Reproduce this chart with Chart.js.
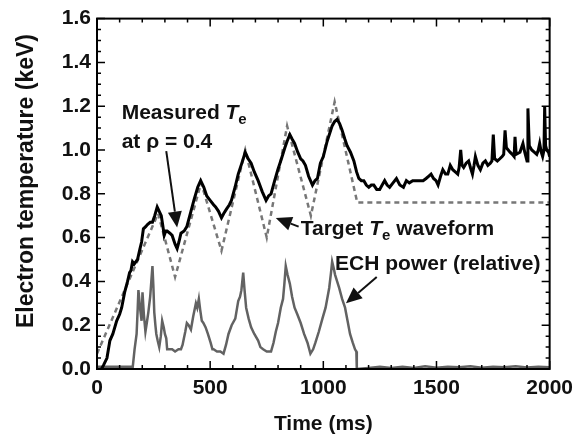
<!DOCTYPE html>
<html>
<head>
<meta charset="utf-8">
<script src="https://cdn.jsdelivr.net/npm/chart.js@4"></script>
<style>
  body { margin: 0; background: #fff; }
  canvas { display: block; }
</style>
</head>
<body>
<canvas id="chart" width="580" height="440"></canvas>
<script>
// measured Te at rho = 0.4 (keV) vs time (ms)
const measTime = [20,30,44,57,70,87,100,109,122,135,144,150,157,165,179,190,197,205,215,223,235,245,255,266,275,284,290,297,304,310,322,332,345,354,362,371,385,397,410,428,445,458,472,485,500,515,524,537,550,560,572,585,594,610,624,640,655,668,681,695,712,730,747,758,769,785,799,815,830,840,852,862,873,887,900,910,921,935,952,963,974,987,1000,1017,1039,1050,1061,1072,1083,1095,1105,1120,1135,1147,1157,1168,1179,1190,1201,1212,1223,1236,1249,1260,1271,1282,1293,1308,1323,1338,1354,1367,1380,1395,1410,1425,1441,1454,1465,1476,1487,1498,1507,1518,1528,1540,1550,1561,1572,1583,1594,1600,1607,1613,1620,1631,1642,1650,1659,1666,1672,1683,1694,1705,1716,1727,1738,1745,1751,1757,1769,1780,1790,1797,1803,1809,1817,1825,1835,1843,1847,1852,1869,1882,1890,1900,1904,1910,1921,1932,1943,1950,1956,1963,1969,1975,1978,1982,1987,1995,2000];
const measTe = [0.0,0.02,0.05,0.13,0.16,0.22,0.25,0.28,0.35,0.40,0.44,0.45,0.49,0.48,0.50,0.55,0.58,0.64,0.65,0.66,0.67,0.67,0.70,0.74,0.72,0.70,0.66,0.61,0.63,0.63,0.62,0.61,0.57,0.55,0.58,0.62,0.63,0.65,0.70,0.77,0.83,0.86,0.83,0.79,0.77,0.75,0.74,0.72,0.69,0.71,0.73,0.75,0.77,0.83,0.89,0.94,0.99,0.96,0.94,0.90,0.86,0.81,0.77,0.79,0.80,0.86,0.91,0.96,1.01,1.04,1.07,1.05,1.03,0.99,0.96,0.95,0.93,0.88,0.84,0.86,0.87,0.94,0.97,1.04,1.11,1.13,1.14,1.12,1.09,1.05,1.02,0.99,0.95,0.90,0.87,0.86,0.86,0.84,0.83,0.84,0.84,0.82,0.82,0.84,0.86,0.84,0.83,0.85,0.87,0.84,0.83,0.86,0.85,0.86,0.86,0.86,0.86,0.87,0.88,0.89,0.87,0.86,0.84,0.88,0.91,0.89,0.89,0.93,0.91,0.90,0.89,0.92,1.00,0.93,0.92,0.94,0.95,0.92,0.89,0.93,0.97,0.93,0.91,0.94,0.95,0.93,0.94,0.95,1.07,0.96,0.95,0.96,0.97,0.98,1.09,1.01,1.00,0.99,0.98,0.97,1.06,0.98,0.99,1.03,0.99,0.95,1.19,1.02,1.00,0.99,0.98,1.00,1.03,0.99,0.97,1.00,1.20,1.02,1.00,0.99,0.97];

// target Te waveform
const targetTime = [0,270,345,460,550,655,750,840,945,1050,1150,2000];
const targetTe = [0.07,0.71,0.42,0.85,0.54,1.00,0.60,1.11,0.70,1.22,0.76,0.76];

// ECH power (relative, plotted on the keV axis)
const echTime = [0,50,100,150,157,162,166,175,180,183,190,197,201,207,214,220,227,235,240,245,249,253,258,262,268,275,282,288,295,300,306,310,320,332,345,360,371,378,384,390,397,405,415,425,437,443,450,456,463,470,480,490,502,510,515,530,545,559,570,581,595,611,624,632,638,646,652,659,670,681,695,712,722,734,750,769,780,790,800,812,822,828,834,842,852,862,873,885,900,915,930,943,955,965,980,996,1010,1026,1034,1039,1046,1052,1061,1070,1083,1096,1107,1118,1130,1140,1146,1148,1200,1250,1300,1350,1400,1450,1500,1550,1600,1650,1700,1750,1800,1850,1900,1950,2000];
const echPower = [0.01,0.01,0.01,0.01,0.0,0.05,0.09,0.16,0.28,0.36,0.28,0.22,0.35,0.25,0.17,0.21,0.26,0.33,0.40,0.47,0.38,0.26,0.20,0.16,0.13,0.10,0.15,0.22,0.19,0.16,0.14,0.09,0.09,0.09,0.08,0.09,0.09,0.11,0.14,0.17,0.21,0.20,0.18,0.24,0.30,0.28,0.32,0.27,0.22,0.21,0.19,0.16,0.12,0.09,0.09,0.08,0.08,0.07,0.11,0.16,0.20,0.23,0.31,0.33,0.36,0.44,0.36,0.28,0.23,0.19,0.16,0.13,0.10,0.09,0.08,0.08,0.12,0.17,0.21,0.28,0.32,0.39,0.47,0.43,0.39,0.33,0.28,0.25,0.21,0.16,0.12,0.07,0.09,0.12,0.17,0.23,0.28,0.37,0.44,0.49,0.46,0.43,0.40,0.37,0.32,0.28,0.22,0.16,0.12,0.09,0.08,0.0,0.005,0.01,0.005,0.01,0.005,0.012,0.006,0.01,0.008,0.012,0.006,0.01,0.008,0.012,0.007,0.01,0.008];

const xMajor = 500, xMinor = 100;
const yMajor = 0.2, yMinor = 0.05;

const FONT = '"Liberation Sans", Arial, Helvetica, sans-serif';

const pts = (xs, ys) => xs.map((x, i) => ({ x, y: ys[i] }));

// text annotations, anchored in data units
const notes = [
  { t: 109, v: 1.14, parts: [["Measured ", false], ["T", true], ["e", "sub"]] },
  { t: 109, v: 1.01, parts: [["at ", false], ["\u03c1", false], [" = 0.4", false]] },
  { t: 900, v: 0.61, parts: [["Target ", false], ["T", true], ["e", "sub"], [" waveform", false]] },
  { t: 1052, v: 0.453, parts: [["ECH power (relative)", false]] }
];
const arrows = [
  { from: [306, 0.995], to: [354, 0.646] },
  { from: [891, 0.65], to: [790, 0.69] },
  { from: [1236, 0.42], to: [1100, 0.30] }
];

const framePlugin = {
  id: "frame",
  afterDraw(chart) {
    const { ctx, chartArea: a, scales: { x, y } } = chart;
    ctx.save();
    ctx.strokeStyle = "#000";
    ctx.lineWidth = 2;
    ctx.strokeRect(a.left, a.top, a.right - a.left, a.bottom - a.top);

    // inward ticks on all four sides
    ctx.lineWidth = 1.5;
    ctx.beginPath();
    for (let t = 0; t <= 2000; t += xMinor) {
      const px = x.getPixelForValue(t);
      const len = t % xMajor === 0 ? 8 : 4;
      ctx.moveTo(px, a.bottom); ctx.lineTo(px, a.bottom - len);
      ctx.moveTo(px, a.top); ctx.lineTo(px, a.top + len);
    }
    for (let k = 0; k <= 32; k++) {
      const py = y.getPixelForValue(k * yMinor);
      const len = k % 4 === 0 ? 8 : 4;
      ctx.moveTo(a.left, py); ctx.lineTo(a.left + len, py);
      ctx.moveTo(a.right, py); ctx.lineTo(a.right - len, py);
    }
    ctx.stroke();

    // labels
    ctx.fillStyle = "#111";
    ctx.textBaseline = "alphabetic";
    notes.forEach(n => {
      let px = x.getPixelForValue(n.t);
      const py = y.getPixelForValue(n.v);
      n.parts.forEach(([txt, style]) => {
        if (style === "sub") {
          ctx.font = `bold 15px ${FONT}`;
          ctx.fillText(txt, px, py + 5);
        } else {
          ctx.font = `${style ? "italic " : ""}bold 21px ${FONT}`;
          ctx.fillText(txt, px, py);
        }
        px += ctx.measureText(txt).width;
      });
    });

    // arrows
    ctx.strokeStyle = "#111";
    ctx.lineWidth = 2;
    arrows.forEach(ar => {
      const x0 = x.getPixelForValue(ar.from[0]), y0 = y.getPixelForValue(ar.from[1]);
      const x1 = x.getPixelForValue(ar.to[0]), y1 = y.getPixelForValue(ar.to[1]);
      const ang = Math.atan2(y1 - y0, x1 - x0);
      const hl = 16, hw = 7;
      const bx = x1 - hl * Math.cos(ang), by = y1 - hl * Math.sin(ang);
      ctx.beginPath();
      ctx.moveTo(x0, y0); ctx.lineTo(bx, by);
      ctx.stroke();
      ctx.beginPath();
      ctx.moveTo(x1, y1);
      ctx.lineTo(bx + hw * Math.sin(ang), by - hw * Math.cos(ang));
      ctx.lineTo(bx - hw * Math.sin(ang), by + hw * Math.cos(ang));
      ctx.closePath();
      ctx.fill();
    });
    ctx.restore();
  }
};

new Chart(document.getElementById("chart"), {
  type: "line",
  data: {
    datasets: [
      { label: "Measured Te", data: pts(measTime, measTe), borderColor: "#000", borderWidth: 3, pointRadius: 0, tension: 0 },
      { label: "Target Te", data: pts(targetTime, targetTe), borderColor: "#777", borderWidth: 2.5, borderDash: [5, 4], pointRadius: 0, tension: 0 },
      { label: "ECH power", data: pts(echTime, echPower), borderColor: "#626262", borderWidth: 2.5, pointRadius: 0, tension: 0 }
    ]
  },
  options: {
    responsive: false,
    animation: false,
    layout: { padding: { top: 12, right: 25, left: 0, bottom: 0 } },
    plugins: { legend: { display: false }, tooltip: { enabled: false } },
    scales: {
      x: {
        type: "linear", min: 0, max: 2000,
        grid: { display: false, drawTicks: false },
        border: { display: false },
        ticks: { stepSize: xMajor, padding: 7, color: "#111", font: { family: FONT, size: 21, weight: "bold" }, callback: v => String(v) },
        title: { display: true, text: "Time (ms)", color: "#111", padding: { top: 0, bottom: 3 }, font: { family: FONT, size: 21, weight: "bold" } },
        afterFit: s => { s.height = 71; }
      },
      y: {
        min: 0, max: 1.6,
        grid: { display: false, drawTicks: false },
        border: { display: false },
        ticks: { stepSize: yMajor, padding: 6, color: "#111", font: { family: FONT, size: 21, weight: "bold" }, callback: v => v.toFixed(1) },
        title: { display: true, text: "    Electron temperature (keV)", color: "#111", padding: { top: 13, bottom: 0 }, font: { family: FONT, size: 23, weight: "bold" } },
        afterFit: s => { s.width = 97; }
      }
    }
  },
  plugins: [framePlugin]
});
</script>
</body>
</html>
